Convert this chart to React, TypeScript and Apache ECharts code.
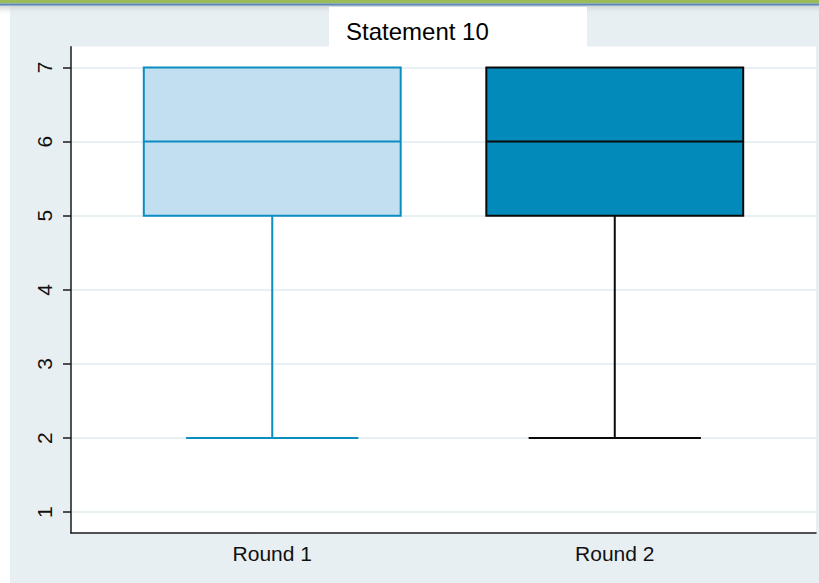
import React, { useEffect, useRef } from "react";
import * as echarts from "echarts";

const categories = ["Round 1", "Round 2"];
const positions = [0, 1];
const mins = [2, 2];
const q1s = [5, 5];
const medians = [6, 6];
const q3s = [7, 7];
const maxs = [7, 7];
const yTicks = [1, 2, 3, 4, 5, 6, 7];
const titleText = "Statement 10";

const boxStyles = [
  { fill: "#c2dff2", stroke: "#0b8dc0" },
  { fill: "#028abb", stroke: "#0a0a0a" },
];

const FONT = "'Liberation Sans', Arial, Helvetica, sans-serif";

export default function App() {
  const ref = useRef<HTMLDivElement>(null);
  useEffect(() => {
    const chart = echarts.init(ref.current!, null, { renderer: "svg" });
    const rows = positions.map((p, i) => [p, mins[i], q1s[i], medians[i], q3s[i], maxs[i]]);
    const series = rows.map((row, i) => ({
      type: "custom",
      name: categories[i],
      data: [row],
      dimensions: ["x", "min", "q1", "median", "q3", "max"],
      encode: { x: 0, y: [1, 2, 3, 4, 5] },
      renderItem: (params: any, api: any) => {
        const x = api.value(0);
        const lo = api.coord([x, api.value(1)]);
        const q1 = api.coord([x, api.value(2)]);
        const md = api.coord([x, api.value(3)]);
        const q3 = api.coord([x, api.value(4)]);
        const hi = api.coord([x, api.value(5)]);
        const boxW = api.size([0.75, 0])[0];
        const capW = api.size([0.503, 0])[0];
        const st = boxStyles[i];
        const lineStyle = { stroke: st.stroke, lineWidth: 2, fill: null };
        return {
          type: "group",
          children: [
            { type: "line", shape: { x1: lo[0], y1: lo[1], x2: q1[0], y2: q1[1] }, style: lineStyle },
            { type: "line", shape: { x1: hi[0], y1: hi[1], x2: q3[0], y2: q3[1] }, style: lineStyle },
            {
              type: "rect",
              shape: { x: q3[0] - boxW / 2, y: q3[1], width: boxW, height: q1[1] - q3[1] },
              style: { fill: st.fill, stroke: st.stroke, lineWidth: 2 },
            },
            { type: "line", shape: { x1: md[0] - boxW / 2, y1: md[1], x2: md[0] + boxW / 2, y2: md[1] }, style: lineStyle },
            { type: "line", shape: { x1: lo[0] - capW / 2, y1: lo[1], x2: lo[0] + capW / 2, y2: lo[1] }, style: lineStyle },
          ],
        };
      },
    }));

    chart.setOption({
      animation: false,
      backgroundColor: "#ffffff",
      textStyle: { fontFamily: FONT },
      title: {
        text: titleText,
        left: 346,
        top: 19,
        padding: 0,
        textStyle: { fontFamily: FONT, fontSize: 24, fontWeight: "normal", color: "#000" },
      },
      graphic: [
        { type: "rect", z: -10, silent: true, shape: { x: 10, y: 0, width: 809, height: 583 }, style: { fill: "#e8eff2" } },
        {
          type: "rect", z: -9, silent: true, shape: { x: 0, y: 5, width: 819, height: 10 },
          style: {
            fill: new echarts.graphic.LinearGradient(0, 0, 0, 1, [
              { offset: 0, color: "rgba(200,205,205,0.9)" },
              { offset: 1, color: "rgba(232,239,242,0)" },
            ]),
          },
        },
        { type: "rect", z: -8, silent: true, shape: { x: 0, y: 0, width: 819, height: 3.5 }, style: { fill: "#9bbb59" } },
        { type: "rect", z: -8, silent: true, shape: { x: 0, y: 3.5, width: 819, height: 2 }, style: { fill: "#5a88bd" } },
        { type: "rect", z: -7, silent: true, shape: { x: 329, y: 7, width: 258, height: 40 }, style: { fill: "#ffffff" } },
        { type: "rect", z: -7, silent: true, shape: { x: 71, y: 46.5, width: 745, height: 487 }, style: { fill: "#ffffff" } },
      ],
      grid: { left: 71, right: 3, top: 46.7, bottom: 50, containLabel: false },
      xAxis: {
        type: "value",
        min: -0.5875,
        max: 1.5875,
        axisLine: { show: true, onZero: false, lineStyle: { color: "#1a1a1a", width: 1.5 } },
        axisTick: { show: false },
        splitLine: { show: false },
        axisLabel: {
          customValues: positions,
          formatter: (v: number) => categories[Math.round(v)] ?? "",
          fontFamily: FONT,
          fontSize: 21,
          color: "#111",
          margin: 10,
          showMinLabel: true,
          showMaxLabel: true,
        },
      },
      yAxis: {
        type: "value",
        min: 0.72,
        max: 7.28,
        axisLine: { show: true, onZero: false, lineStyle: { color: "#1a1a1a", width: 1.5 } },
        axisTick: { show: true, customValues: yTicks, length: 8, lineStyle: { color: "#1a1a1a", width: 1.5 } },
        splitLine: { show: true, lineStyle: { color: "#e9f0f3", width: 2 } },
        axisLabel: {
          customValues: yTicks,
          rotate: 90,
          fontFamily: FONT,
          fontSize: 21,
          color: "#111",
          margin: 16,
        },
      },
      series,
    });
    return () => chart.dispose();
  }, []);
  return (
    <div
      ref={ref}
      style={{ position: "fixed", left: 0, top: 0, width: 819, height: 583 }}
    />
  );
}
